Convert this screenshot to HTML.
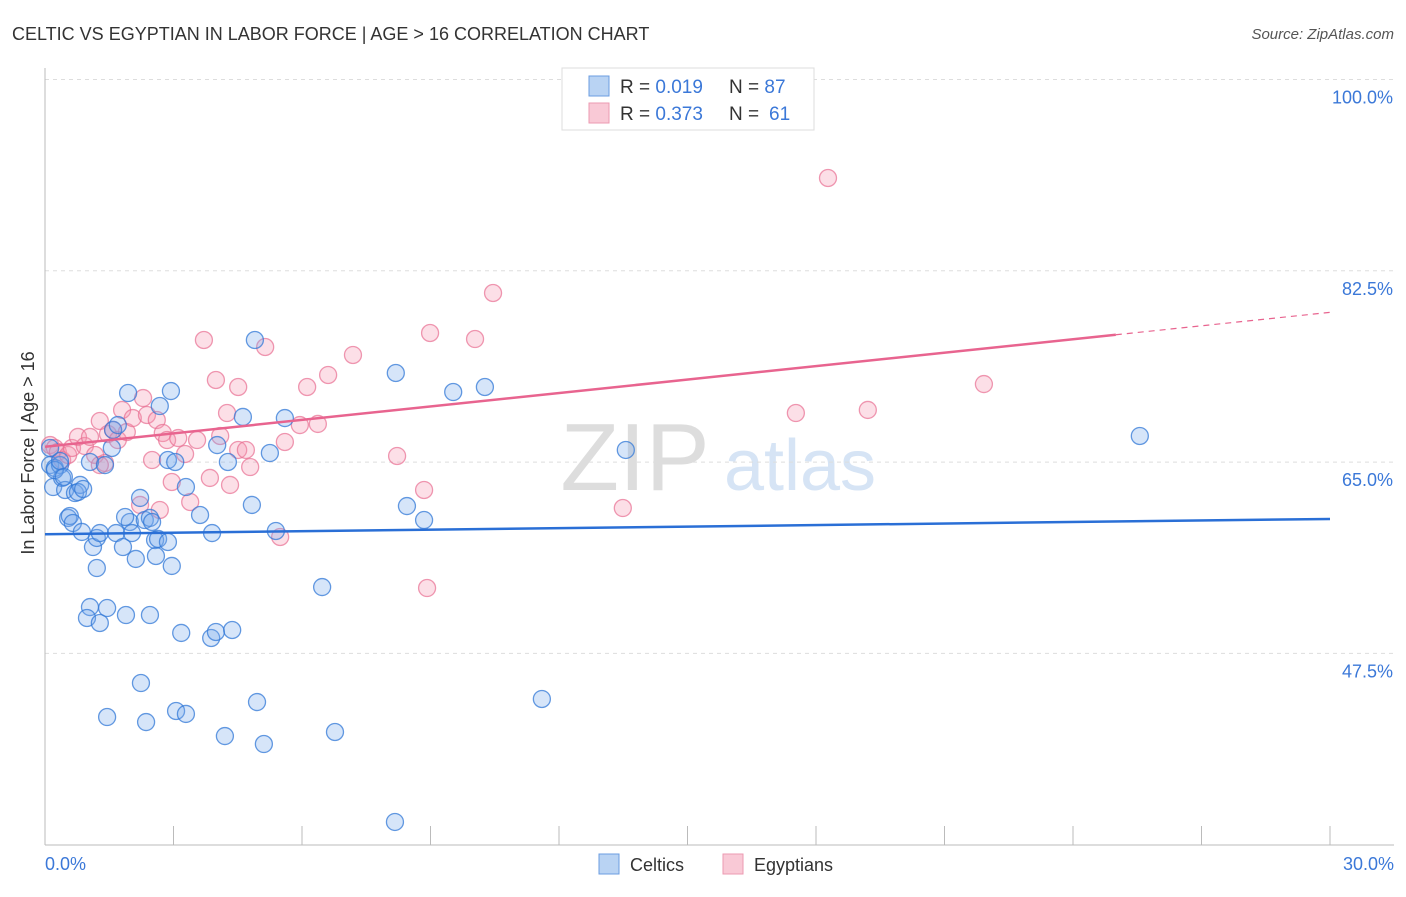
<!DOCTYPE html>
<html><head><meta charset="utf-8"><style>
body{margin:0;background:#fff;font-family:"Liberation Sans",sans-serif}
svg text{font-family:"Liberation Sans",sans-serif}
</style></head><body>
<svg id="c" width="1406" height="892" xmlns="http://www.w3.org/2000/svg">
<text x="12" y="40" font-size="18" fill="#333">CELTIC VS EGYPTIAN IN LABOR FORCE | AGE &gt; 16 CORRELATION CHART</text>
<text x="1394" y="39" font-size="15" fill="#555" font-style="italic" text-anchor="end">Source: ZipAtlas.com</text>
<text x="635" y="490" font-size="96" fill="#ddd" font-family="Liberation Serif" text-anchor="middle">ZIP</text>
<text x="800" y="490" font-size="72" fill="#d6e4f5" text-anchor="middle">atlas</text>
<g id="grid"></g><g id="pts"></g><g id="lines"></g>
<text x="36" y="455" font-size="18" fill="#333" transform="rotate(-90 34 455)" text-anchor="middle">In Labor Force | Age &gt; 16</text>
<text x="45" y="870" font-size="18" fill="#3b78d8">0.0%</text>
<text x="1394" y="870" font-size="18" fill="#3b78d8" text-anchor="end">30.0%</text>
<g>
<rect x="562" y="68" width="252" height="62" fill="#fff" stroke="#ddd"/>
<rect x="589" y="76" width="20" height="20" fill="#b9d3f3" stroke="#6b9de0"/>
<rect x="589" y="103" width="20" height="20" fill="#f9c9d6" stroke="#ec9ab1"/>
<text x="620" y="93" font-size="19" fill="#333">R = <tspan fill="#3b78d8">0.019</tspan></text>
<text x="729" y="93" font-size="19" fill="#333">N = <tspan fill="#3b78d8">87</tspan></text>
<text x="620" y="120" font-size="19" fill="#333">R = <tspan fill="#3b78d8">0.373</tspan></text>
<text x="729" y="120" font-size="19" fill="#333">N =  <tspan fill="#3b78d8" x="769">61</tspan></text>
</g>
<g>
<rect x="599" y="854" width="20" height="20" fill="#b9d3f3" stroke="#6b9de0"/>
<text x="630" y="871" font-size="18" fill="#333">Celtics</text>
<rect x="723" y="854" width="20" height="20" fill="#f9c9d6" stroke="#ec9ab1"/>
<text x="754" y="871" font-size="18" fill="#333">Egyptians</text>
</g>
</svg>
<script>
const yTicks=[100,82.5,65,47.5];
const yTickLabels=["100.0%","82.5%","65.0%","47.5%"];
const xTicks=[0,3,6,9,12,15,18,21,24,27,30];
const bluePx=[[50,465],[55,468],[60,465],[53,487],[62,478],[65,490],[75,493],[80,485],[78,492],[83,489],[68,518],[70,516],[73,523],[82,532],[93,547],[97,538],[97,568],[90,462],[105,465],[113,430],[118,425],[128,393],[112,448],[100,533],[116,533],[123,547],[130,522],[125,517],[132,533],[136,559],[140,498],[145,520],[150,518],[152,522],[155,540],[158,539],[156,556],[168,542],[172,566],[160,406],[171,391],[168,460],[175,462],[186,487],[200,515],[212,533],[217,445],[228,462],[243,417],[252,505],[255,340],[270,453],[285,418],[276,531],[90,607],[87,618],[100,623],[107,608],[126,615],[150,615],[181,633],[211,638],[216,632],[232,630],[141,683],[107,717],[146,722],[176,711],[186,714],[225,736],[257,702],[264,744],[335,732],[322,587],[396,373],[407,506],[424,520],[453,392],[485,387],[542,699],[626,450],[1140,436],[395,822],[55,470],[60,461],[50,448],[64,477]];
const pinkPx=[[50,445],[55,448],[58,452],[62,460],[68,455],[72,448],[78,437],[85,446],[90,437],[95,455],[100,421],[105,463],[108,434],[113,430],[118,440],[122,410],[127,432],[133,418],[140,505],[143,398],[147,415],[152,460],[157,420],[160,510],[163,433],[167,440],[172,482],[178,438],[185,454],[190,502],[197,440],[204,340],[210,478],[216,380],[220,436],[227,413],[230,485],[238,387],[238,450],[246,450],[250,467],[265,347],[285,442],[300,425],[307,387],[318,424],[328,375],[353,355],[397,456],[424,490],[427,588],[430,333],[475,339],[493,293],[623,508],[796,413],[828,178],[868,410],[984,384],[280,537],[100,465]];
const celticX=bluePx.map(p=>+((p[0]-45)*30/1285).toFixed(2));
const celticY=bluePx.map(p=>+(100-(p[1]-79.5)*17.5/191.3).toFixed(2));
const egyptX=pinkPx.map(p=>+((p[0]-45)*30/1285).toFixed(2));
const egyptY=pinkPx.map(p=>+(100-(p[1]-79.5)*17.5/191.3).toFixed(2));
const celticFit=[58.4,59.8];
const egyptFit=[66.4,78.7];
const egyptSolidEnd=25;

const X=v=>45+v*1285/30, Y=v=>79.5+(100-v)*191.3/17.5;
const NS="http://www.w3.org/2000/svg";
function mk(parent,tag,attrs){const e=document.createElementNS(NS,tag);for(const k in attrs)e.setAttribute(k,attrs[k]);document.getElementById(parent).appendChild(e);return e;}
yTicks.forEach((t,i)=>{
 const l=mk('grid','line',{x1:45,x2:1394,y1:Y(t),y2:Y(t),stroke:'#ddd','stroke-dasharray':'4,4'});
 
 
 const tx=mk('grid','text',{x:1393,y:Y(t)+24,'font-size':18,fill:'#3b78d8','text-anchor':'end'});
 tx.textContent=yTickLabels[i];
 
 
});
const ax=mk('grid','line',{x1:45,x2:45,y1:68,y2:845,stroke:'#bbb'});


const bx=mk('grid','line',{x1:45,x2:1394,y1:845,y2:845,stroke:'#bbb'});


xTicks.forEach(t=>{
 const l=mk('grid','line',{x1:X(t),x2:X(t),y1:826,y2:845,stroke:'#bbb'});
 
 
});
function dots(xs,ys,fill,stroke,name){
 xs.forEach((x,i)=>{
  const c=mk('pts','circle',{cx:X(x),cy:Y(ys[i]),r:8.5,fill:fill,stroke:stroke,'stroke-width':1.3});
  
  
 });
}
dots(egyptX,egyptY,'rgba(244,150,176,0.3)','rgba(232,110,145,0.7)','egyptian-point');
dots(celticX,celticY,'rgba(120,170,235,0.3)','rgba(50,120,215,0.75)','celtic-point');
const bl=mk('lines','line',{x1:X(0),y1:Y(celticFit[0]),x2:X(30),y2:Y(celticFit[1]),stroke:'#2a6fd6','stroke-width':2.5});


const py=v=>egyptFit[0]+(egyptFit[1]-egyptFit[0])*v/30;
const pl=mk('lines','line',{x1:X(0),y1:Y(py(0)),x2:X(egyptSolidEnd),y2:Y(py(egyptSolidEnd)),stroke:'#e8648f','stroke-width':2.5});


const pd=mk('lines','line',{x1:X(egyptSolidEnd),y1:Y(py(egyptSolidEnd)),x2:X(30),y2:Y(py(30)),stroke:'#e8648f','stroke-width':1.2,'stroke-dasharray':'6,5'});


</script>
</body></html>
